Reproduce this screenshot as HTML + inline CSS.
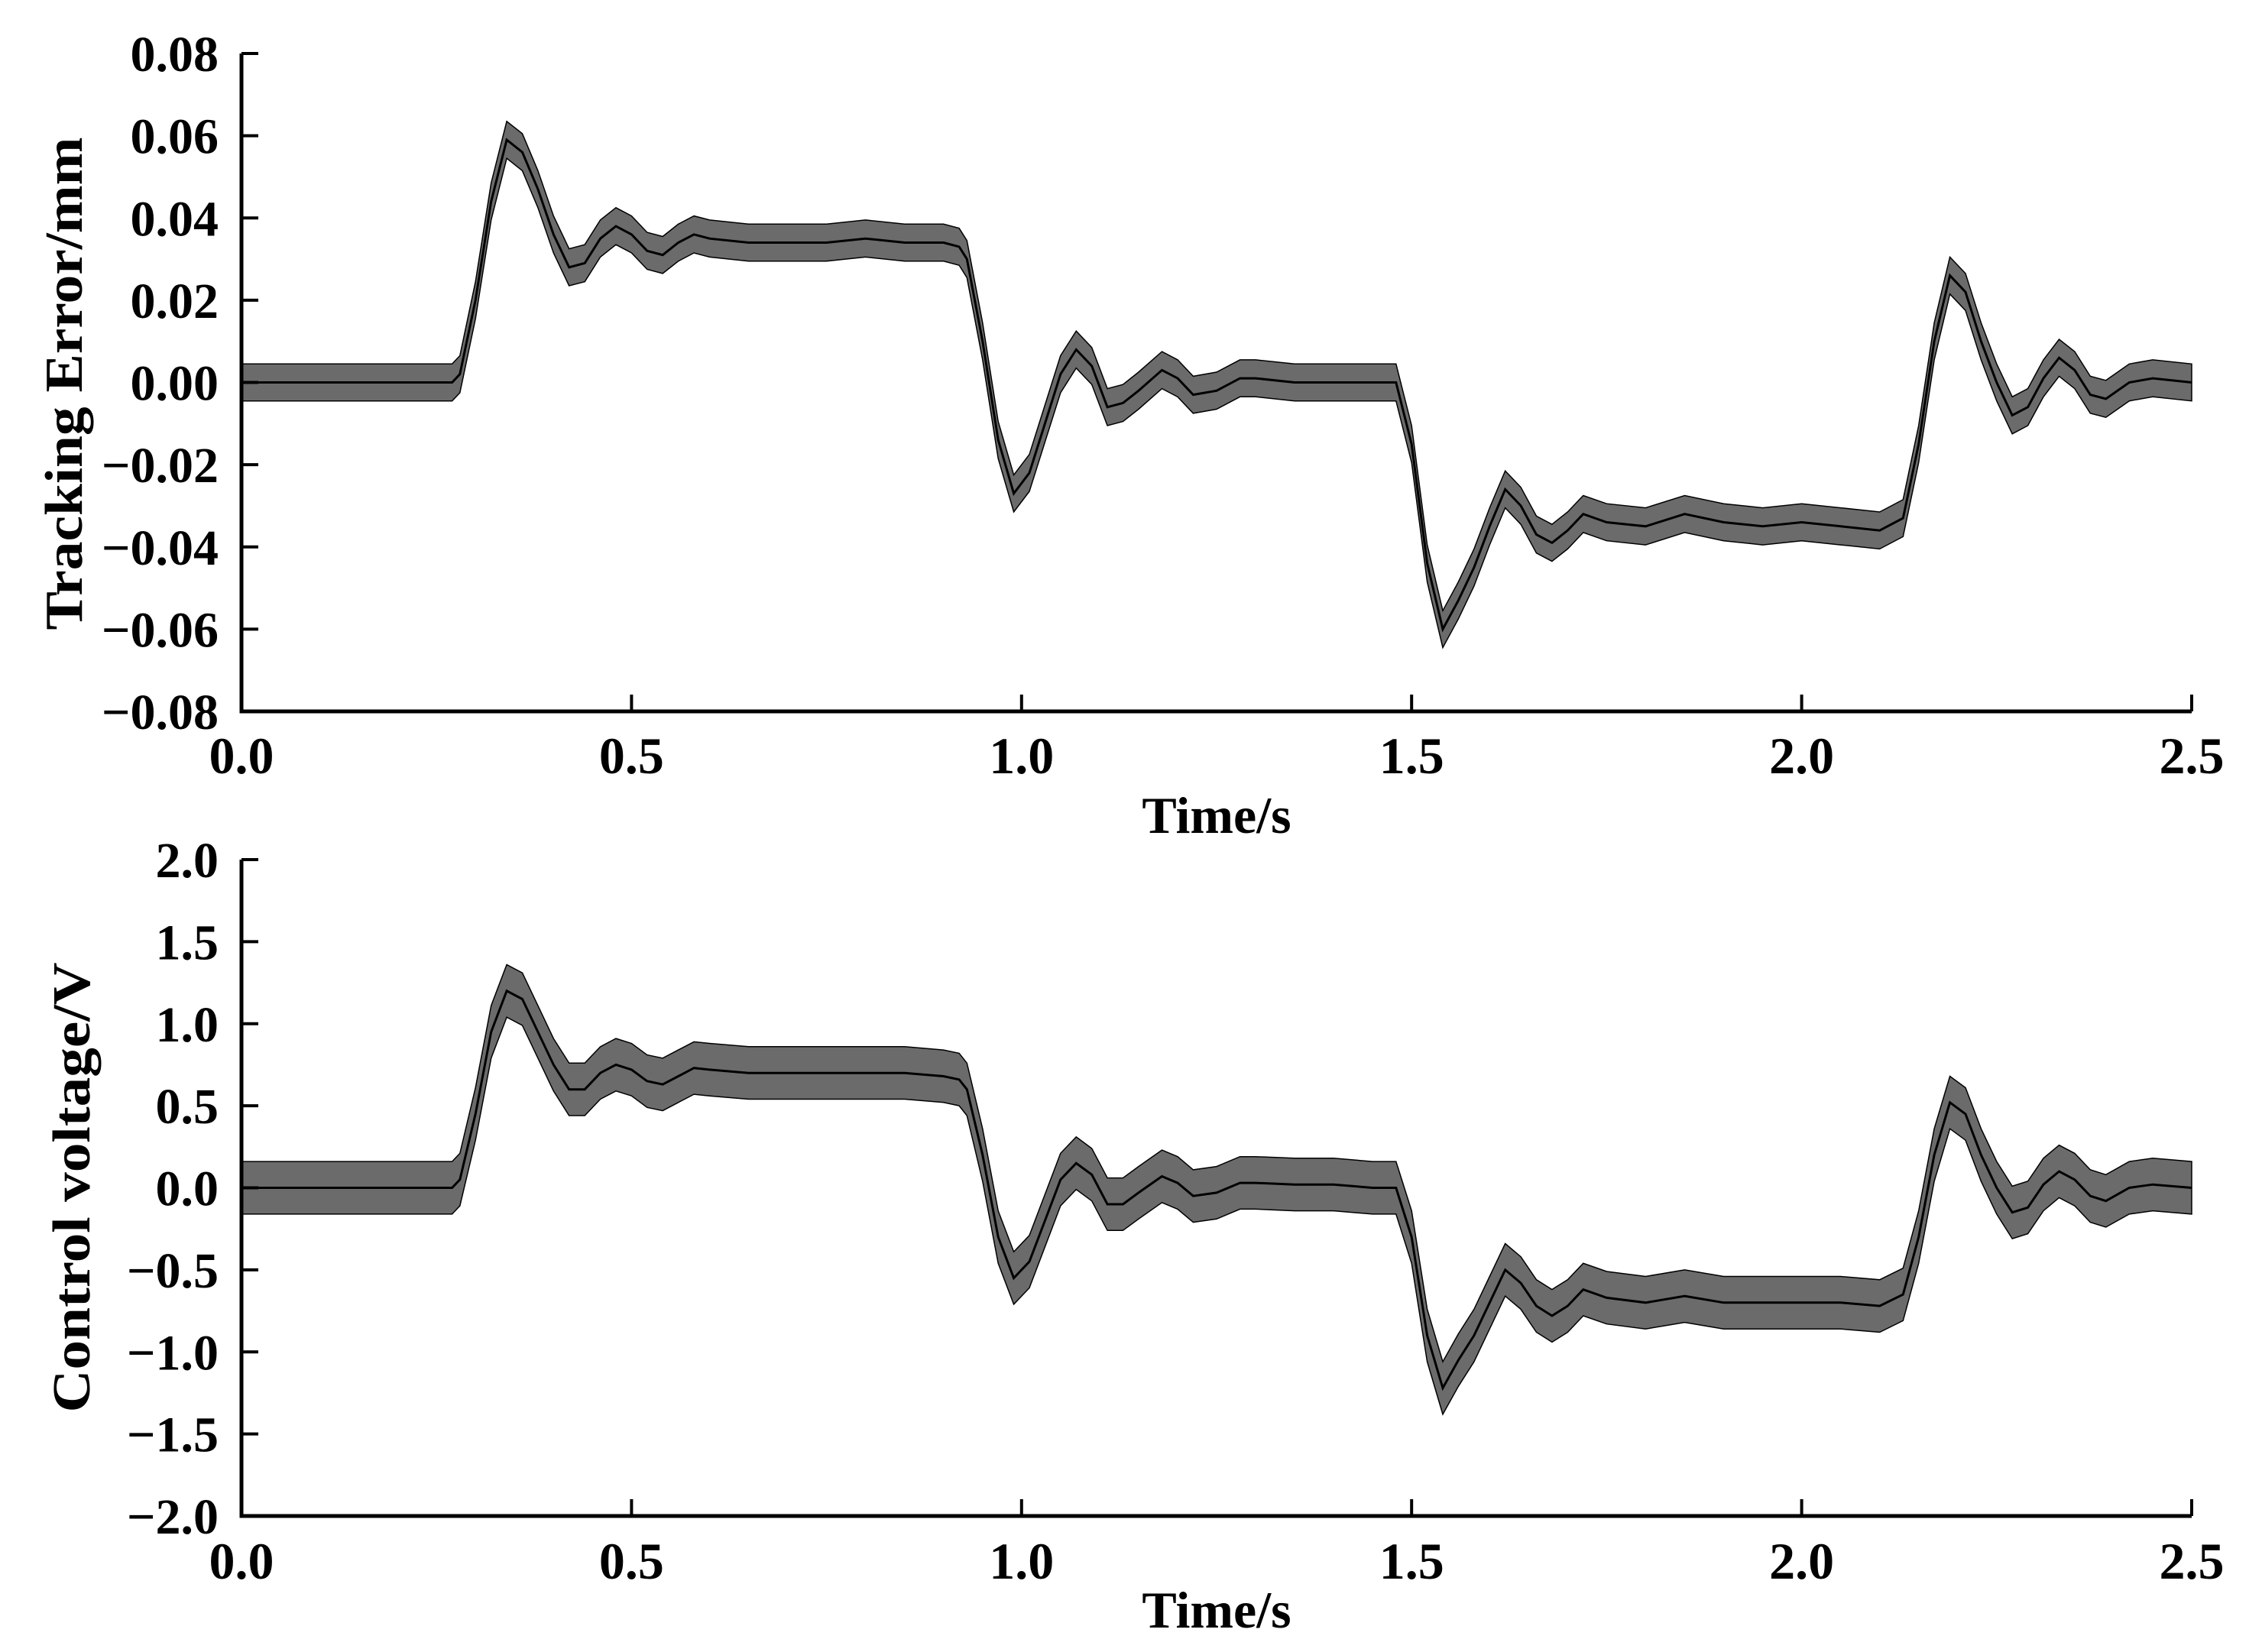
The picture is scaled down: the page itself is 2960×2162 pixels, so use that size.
<!DOCTYPE html>
<html><head><meta charset="utf-8"><style>
html,body{margin:0;padding:0;background:#fff;}
svg{display:block;}
text{font-family:"Liberation Serif",serif;font-weight:bold;fill:#000;}
</style></head><body>
<svg id="chart" width="2960" height="2162" viewBox="0 0 2960 2162" xmlns="http://www.w3.org/2000/svg">
<g id="top"></g>
<g id="bot"></g>
</svg>
<script>
const times = [0,0.05,0.1,0.15,0.2,0.25,0.27,0.28,0.30,0.32,0.34,0.36,0.38,0.40,0.42,0.44,0.46,0.48,0.50,0.52,0.54,0.56,0.58,0.60,0.65,0.70,0.75,0.80,0.85,0.90,0.92,0.93,0.95,0.97,0.99,1.01,1.03,1.05,1.07,1.09,1.11,1.13,1.15,1.18,1.20,1.22,1.25,1.28,1.30,1.35,1.40,1.45,1.48,1.50,1.52,1.54,1.56,1.58,1.60,1.62,1.64,1.66,1.68,1.70,1.72,1.75,1.80,1.85,1.90,1.95,2.00,2.05,2.10,2.13,2.15,2.17,2.19,2.21,2.23,2.25,2.27,2.29,2.31,2.33,2.35,2.37,2.39,2.42,2.45,2.50];
const errorValues = [0,0,0,0,0,0,0,0.002,0.02,0.044,0.059,0.056,0.047,0.036,0.028,0.029,0.035,0.038,0.036,0.032,0.031,0.034,0.036,0.035,0.034,0.034,0.034,0.035,0.034,0.034,0.033,0.03,0.01,-0.014,-0.027,-0.022,-0.01,0.002,0.008,0.004,-0.006,-0.005,-0.002,0.003,0.001,-0.003,-0.002,0.001,0.001,0,0,0,0,-0.015,-0.044,-0.06,-0.053,-0.045,-0.035,-0.026,-0.03,-0.037,-0.039,-0.036,-0.032,-0.034,-0.035,-0.032,-0.034,-0.035,-0.034,-0.035,-0.036,-0.033,-0.015,0.01,0.026,0.022,0.01,0,-0.008,-0.006,0.001,0.006,0.003,-0.003,-0.004,0,0.001,0];
const voltageValues = [0,0,0,0,0,0,0,0.05,0.45,0.95,1.2,1.15,0.95,0.75,0.6,0.6,0.7,0.75,0.72,0.65,0.63,0.68,0.73,0.72,0.7,0.7,0.7,0.7,0.7,0.68,0.66,0.6,0.2,-0.3,-0.55,-0.45,-0.2,0.05,0.15,0.08,-0.1,-0.1,-0.03,0.07,0.03,-0.05,-0.03,0.03,0.03,0.02,0.02,0,0,-0.3,-0.9,-1.22,-1.05,-0.9,-0.7,-0.5,-0.58,-0.72,-0.78,-0.72,-0.62,-0.67,-0.7,-0.66,-0.7,-0.7,-0.7,-0.7,-0.72,-0.65,-0.3,0.2,0.52,0.45,0.2,0,-0.15,-0.12,0.02,0.1,0.05,-0.05,-0.08,0,0.02,0];
const errorNoise = 0.0045;
const voltageNoise = 0.16;
const xTicks = [0,0.5,1.0,1.5,2.0,2.5];
const xTickLabels = ["0.0","0.5","1.0","1.5","2.0","2.5"];
const errorTicks = [0.08,0.06,0.04,0.02,0,-0.02,-0.04,-0.06,-0.08];
const errorTickLabels = ["0.08","0.06","0.04","0.02","0.00","\u22120.02","\u22120.04","\u22120.06","\u22120.08"];
const voltTicks = [2,1.5,1,0.5,0,-0.5,-1,-1.5,-2];
const voltTickLabels = ["2.0","1.5","1.0","0.5","0.0","\u22120.5","\u22121.0","\u22121.5","\u22122.0"];

const NS="http://www.w3.org/2000/svg";
const X0=316,X1=2868;
function xs(t){return X0+(t-0)*(X1-X0)/2.5;}
function mk(tag,attrs,parent){const e=document.createElementNS(NS,tag);for(const k in attrs)e.setAttribute(k,attrs[k]);parent.appendChild(e);return e;}

function panel(g,yTop,yBot,vMax,vMin,ticks,labels,vals,noise,title,titleCx,titleCy,titleLen,xLabelY,xTitleY,pre){
  const ys=v=>yTop+(vMax-v)*(yBot-yTop)/(vMax-vMin);
  // band
  let up=[],dn=[];
  for(let i=0;i<times.length;i++){up.push(xs(times[i]).toFixed(1)+","+ys(vals[i]+noise).toFixed(1));dn.unshift(xs(times[i]).toFixed(1)+","+ys(vals[i]-noise).toFixed(1));}
  const band=mk('polygon',{points:up.concat(dn).join(' '),fill:'#3a3a3a','fill-opacity':'0.75',stroke:'#000','stroke-width':'1.5'},g);
  
  
  const pts=times.map((t,i)=>xs(t).toFixed(1)+","+ys(vals[i]).toFixed(1)).join(' ');
  const line=mk('polyline',{points:pts,fill:'none',stroke:'#000','stroke-width':'3'},g);
  
  
  // axes
  const ax=mk('path',{d:`M${X0},${yTop} V${yBot} H${X1}`,fill:'none',stroke:'#000','stroke-width':'5'},g);
  
  
  ticks.forEach((v,i)=>{
    const y=ys(v);
    const tk=mk('line',{x1:X0,x2:X0+22,y1:y,y2:y,stroke:'#000','stroke-width':'4'},g);
    
    
    const tx=mk('text',{x:286,y:y+23,'text-anchor':'end','font-size':'66'},g);
    tx.textContent=labels[i];
    
    
  });
  xTicks.forEach((t,i)=>{
    const x=xs(t);
    const tk=mk('line',{x1:x,x2:x,y1:yBot,y2:yBot-22,stroke:'#000','stroke-width':'4'},g);
    
    
    const tx=mk('text',{x:x,y:xLabelY,'text-anchor':'middle','font-size':'68'},g);
    tx.textContent=xTickLabels[i];
    
    
  });
  const xt=mk('text',{x:(X0+X1)/2,y:xTitleY,'text-anchor':'middle','font-size':'68'},g);
  xt.textContent='Time/s';
  
  
  const yt=mk('text',{x:0,y:0,'text-anchor':'middle','font-size':'70',textLength:titleLen,lengthAdjust:'spacingAndGlyphs',transform:`translate(${titleCx},${titleCy}) rotate(-90)`},g);
  yt.textContent=title;
  
  
}
panel(document.getElementById('top'),70,931,0.08,-0.08,errorTicks,errorTickLabels,errorValues,errorNoise,'Tracking Error/mm',107,502,645,1012,1090,'error');
panel(document.getElementById('bot'),1125,1984,2,-2,voltTicks,voltTickLabels,voltageValues,voltageNoise,'Control voltage/V',117,1554,589,2066,2130,'voltage');
</script>
</body></html>
